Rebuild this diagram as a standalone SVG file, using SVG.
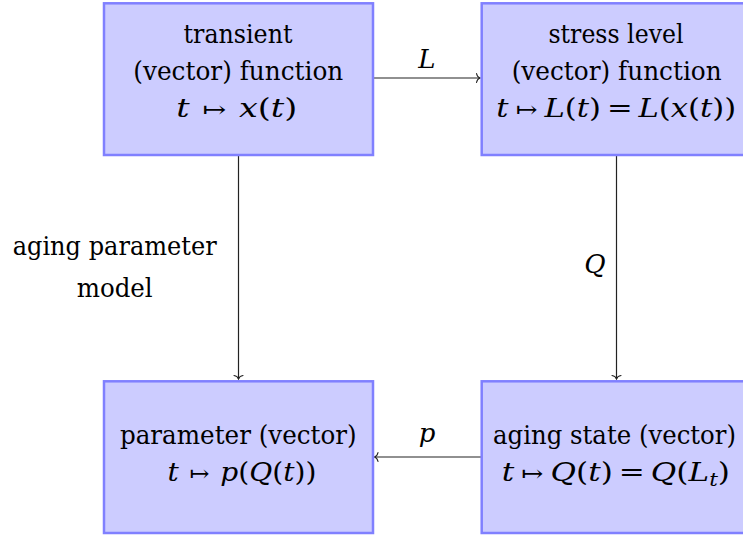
<svg xmlns="http://www.w3.org/2000/svg" width="743" height="536" viewBox="0 0 743 536">
<style>
.box{fill:#ccccff;stroke:#8080ff;stroke-width:2.5}
text{font-family:'DejaVu Serif','Liberation Serif',serif;font-size:26px;fill:#000;text-anchor:middle}
.i{font-style:italic}
.m{font-style:normal;font-size:22px}
.s{font-size:18px}
.edge{stroke:#222;stroke-width:1.2;fill:none}
</style>
<defs>
<marker id="to" markerUnits="userSpaceOnUse" markerWidth="12" markerHeight="12" viewBox="-6 -6 12 12" refX="0" refY="0" orient="auto" overflow="visible">
<path d="M -3.5 -4.5 C -3 -1.8 -1.2 -0.4 0 0 C -1.2 0.4 -3 1.8 -3.5 4.5" fill="none" stroke="#222" stroke-width="1.1" stroke-linecap="round"/>
</marker>
</defs>
<rect width="743" height="536" fill="#fff"/>
<g id="connectors">
<line class="edge" x1="373" y1="78" x2="480" y2="78" marker-end="url(#to)"/>
<line class="edge" x1="238.5" y1="155" x2="238.5" y2="379" marker-end="url(#to)"/>
<line class="edge" x1="616.5" y1="155" x2="616.5" y2="379" marker-end="url(#to)"/>
<line class="edge" x1="481" y1="457" x2="374.5" y2="457" marker-end="url(#to)"/>
<text class="i" x="427" y="68">L</text>
<text class="i" x="595" y="273">Q</text>
<text class="i" x="427" y="442">p</text>
<text x="114.7" y="255" textLength="204" lengthAdjust="spacingAndGlyphs">aging parameter</text>
<text x="114.7" y="297" textLength="76" lengthAdjust="spacingAndGlyphs">model</text>
</g>
<g id="transient">
<rect class="box" x="104" y="3.3" width="269" height="151.7"/>
<text x="238" y="43" textLength="109" lengthAdjust="spacingAndGlyphs">transient</text>
<text x="238.3" y="80" textLength="210" lengthAdjust="spacingAndGlyphs">(vector) function</text>
<text x="236.7" y="117" textLength="121" lengthAdjust="spacingAndGlyphs"><tspan class="i">t</tspan><tspan class="m" dx="10">↦</tspan><tspan class="i" dx="10">x</tspan>(<tspan class="i">t</tspan>)</text>
</g>
<g id="stress">
<rect class="box" x="481.7" y="3.3" width="269" height="151.7"/>
<text x="616" y="43" textLength="135" lengthAdjust="spacingAndGlyphs">stress level</text>
<text x="616.7" y="80" textLength="210" lengthAdjust="spacingAndGlyphs">(vector) function</text>
<text x="616.3" y="117" textLength="240" lengthAdjust="spacingAndGlyphs"><tspan class="i">t</tspan><tspan class="m" dx="6">↦</tspan><tspan class="i" dx="6">L</tspan>(<tspan class="i">t</tspan>)<tspan dx="5">=</tspan><tspan class="i" dx="5">L</tspan>(<tspan class="i">x</tspan>(<tspan class="i">t</tspan>))</text>
</g>
<g id="parameter">
<rect class="box" x="104" y="381.3" width="269" height="151.7"/>
<text x="238.3" y="444" textLength="236.7" lengthAdjust="spacingAndGlyphs">parameter (vector)</text>
<text x="242" y="481" textLength="149" lengthAdjust="spacingAndGlyphs"><tspan class="i">t</tspan><tspan class="m" dx="10">↦</tspan><tspan class="i" dx="10">p</tspan>(<tspan class="i">Q</tspan>(<tspan class="i">t</tspan>))</text>
</g>
<g id="aging">
<rect class="box" x="481.7" y="381.3" width="269" height="151.7"/>
<text x="614.5" y="444" textLength="243" lengthAdjust="spacingAndGlyphs">aging state (vector)</text>
<text x="615.8" y="481" textLength="228.3" lengthAdjust="spacingAndGlyphs"><tspan class="i">t</tspan><tspan class="m" dx="6">↦</tspan><tspan class="i" dx="6">Q</tspan>(<tspan class="i">t</tspan>)<tspan dx="5">=</tspan><tspan class="i" dx="5">Q</tspan>(<tspan class="i">L</tspan><tspan class="i s" dy="5">t</tspan><tspan dy="-5">)</tspan></text>
</g>
</svg>
